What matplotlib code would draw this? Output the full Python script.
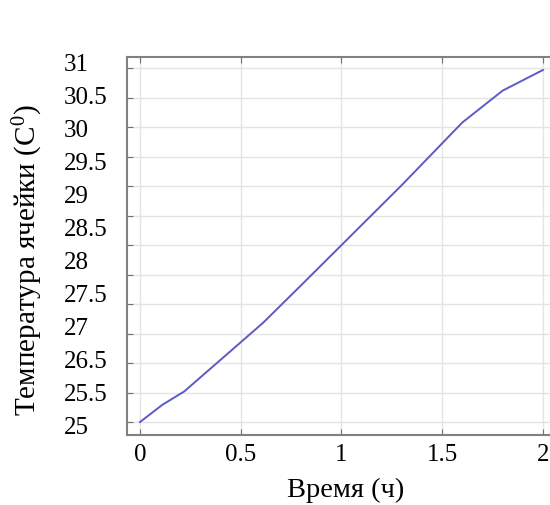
import numpy as np
import matplotlib
matplotlib.use("Agg")
import matplotlib.pyplot as plt

# данные
time_h = [0, 0.11, 0.22, 0.61, 0.8, 1.0, 1.3, 1.6, 1.8, 2.0]
temp_c = [25.0, 25.29, 25.52, 26.68, 27.32, 28.0, 29.02, 30.08, 30.62, 30.97]
x_ticks = [0, 0.5, 1, 1.5, 2]
x_labels = ["0", "0.5", "1", "1.5", "2"]
y_grid = [25, 25.5, 26, 26.5, 27, 27.5, 28, 28.5, 29, 29.5, 30, 30.5, 31]
# подписи оси Y как на рисунке (без 26)
y_labels = ["25", "25.5", "26.5", "27", "27.5", "28", "28.5", "29",
            "29.5", "30", "30.5", "31"]

plt.rcParams["font.family"] = ["Liberation Serif", "DejaVu Serif"]
plt.rcParams["mathtext.fontset"] = "custom"
plt.rcParams["mathtext.rm"] = "Liberation Serif"
plt.rcParams["mathtext.it"] = "Liberation Serif"

fig = plt.figure(figsize=(5.5, 5.06), dpi=100)
ax = fig.add_axes([0.2309, 0.1383, 0.78, 0.747])

ax.plot(time_h, temp_c, color="#5b5bc4", lw=1.4)

ax.set_xlim(-0.0645, 2.065)
ax.set_ylim(24.78, 31.19)
ax.set_xticks(x_ticks)
ax.set_xticklabels(x_labels, fontsize=18)
ax.set_yticks(y_grid)
ax.tick_params(axis="y", labelleft=False)
ax.tick_params(direction="in", length=4, color="#707070", top=True,
               left=True, right=False, pad=6)
ax.grid(True, color="#e4e4e4", lw=1)
for s in ["left", "bottom", "top"]:
    ax.spines[s].set_color("#808080")
    ax.spines[s].set_linewidth(1.5)
ax.spines["right"].set_visible(False)

# отдельная ось для подписей Y (они смещены относительно сетки)
lab = fig.add_axes([0.0, 0.160, 64 / 550, 0.7174])
lab.set_ylim(0, len(y_labels) - 1)
lab.set_yticks(np.arange(len(y_labels)))
lab.set_yticklabels(y_labels, fontsize=18, ha="left")
lab.yaxis.tick_right()
lab.tick_params(axis="y", length=0, pad=0)
lab.set_xticks([])
for s in lab.spines.values():
    s.set_visible(False)
lab.patch.set_alpha(0)

fig.text(346 / 550, 1 - 490 / 506, "Время (ч)", fontsize=20.5,
         ha="center", va="center")
fig.text(28 / 550, 1 - 260 / 506, "Температура ячейки (C$^{0}$)", fontsize=21,
         rotation=90, ha="center", va="center")

fig.savefig("out.png", dpi=100)
